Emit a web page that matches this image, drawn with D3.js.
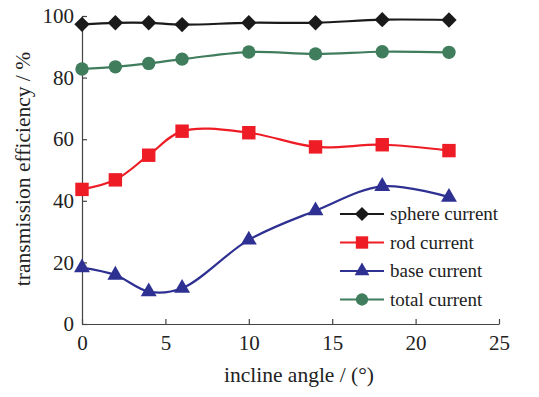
<!DOCTYPE html>
<html>
<head>
<meta charset="utf-8">
<script src="https://cdn.jsdelivr.net/npm/d3@7"></script>
<style>
  body { margin: 0; background: #fff; }
  text { font-family: "Liberation Serif", "Times New Roman", serif; fill: #222; }
</style>
</head>
<body>
<script>
const angles = [0, 2, 4, 6, 10, 14, 18, 22];
const sphere = [97.3, 97.8, 97.8, 97.2, 97.8, 97.8, 98.8, 98.7];
const rod = [43.7, 46.8, 54.8, 62.6, 62.1, 57.5, 58.2, 56.3];
const base = [18.3, 15.9, 10.5, 11.6, 27.3, 36.8, 44.7, 41.2];
const total = [82.8, 83.5, 84.6, 86.0, 88.3, 87.7, 88.4, 88.2];
const xTicks = [0, 5, 10, 15, 20, 25];
const yTicks = [0, 20, 40, 60, 80, 100];

const series = [
  { name: 'sphere current', values: sphere, color: '#1a1a1a', marker: d3.symbolDiamond2 },
  { name: 'rod current', values: rod, color: '#ee1c25', marker: d3.symbolSquare },
  { name: 'base current', values: base, color: '#2e3192', marker: d3.symbolTriangle },
  { name: 'total current', values: total, color: '#3f7d5d', marker: d3.symbolCircle }
];
const markerSize = { 'sphere current': 150, 'rod current': 180, 'base current': 110, 'total current': 140 };

const width = 539, height = 397;
const margin = { left: 82, right: 40, top: 16, bottom: 73 };

const svg = d3.select('body').append('svg')
  .attr('width', width)
  .attr('height', height);

const x = d3.scaleLinear().domain([0, 25]).range([margin.left, 499]);
const y = d3.scaleLinear().domain([0, 100]).range([324, margin.top]);

// axes with inward ticks
const xAxis = svg.append('g')
  .attr('transform', 'translate(0,' + y(0) + ')')
  .call(d3.axisBottom(x).tickValues(xTicks).tickSizeInner(-5).tickSizeOuter(0).tickPadding(11));
const yAxis = svg.append('g')
  .attr('transform', 'translate(' + x(0) + ',0)')
  .call(d3.axisLeft(y).tickValues(yTicks).tickSizeInner(-5).tickSizeOuter(0).tickPadding(8));

[xAxis, yAxis].forEach(g => {
  g.select('.domain').attr('stroke', '#444').attr('stroke-width', 1.2);
  g.selectAll('.tick line').attr('stroke', '#444').attr('stroke-width', 1.2);
  g.selectAll('.tick text').style('font-size', '21px').attr('fill', '#222')
    .style('font-family', '"Liberation Serif", serif');
});

const line = d3.line()
  .x((d, i) => x(angles[i]))
  .y(d => y(d))
  .curve(d3.curveCatmullRom.alpha(0.5));

series.forEach(s => {
  svg.append('path')
    .attr('d', line(s.values))
    .attr('fill', 'none')
    .attr('stroke', s.color)
    .attr('stroke-width', 2.2);

  svg.selectAll(null)
    .data(s.values)
    .enter().append('path')
    .attr('transform', (d, i) => 'translate(' + x(angles[i]) + ',' + y(d) + ')')
    .attr('d', d3.symbol().type(s.marker).size(markerSize[s.name]))
    .attr('fill', s.color);
});

// legend
const legend = svg.append('g');
series.forEach((s, i) => {
  const ly = 214 + i * 28.5;
  legend.append('line')
    .attr('x1', 340).attr('x2', 384)
    .attr('y1', ly).attr('y2', ly)
    .attr('stroke', s.color).attr('stroke-width', 2.2);
  legend.append('path')
    .attr('transform', 'translate(362,' + ly + ')')
    .attr('d', d3.symbol().type(s.marker).size(markerSize[s.name] * 0.85))
    .attr('fill', s.color);
  legend.append('text')
    .attr('x', 390).attr('y', ly + 6)
    .style('font-size', '19px')
    .text(s.name);
});

// axis titles
svg.append('text')
  .attr('x', 299).attr('y', 382)
  .attr('text-anchor', 'middle')
  .style('font-size', '21.5px')
  .text('incline angle / (°)');

svg.append('text')
  .attr('transform', 'translate(30,' + 169 + ') rotate(-90)')
  .attr('text-anchor', 'middle')
  .style('font-size', '21.5px')
  .text('transmission efficiency / %');
</script>
</body>
</html>
